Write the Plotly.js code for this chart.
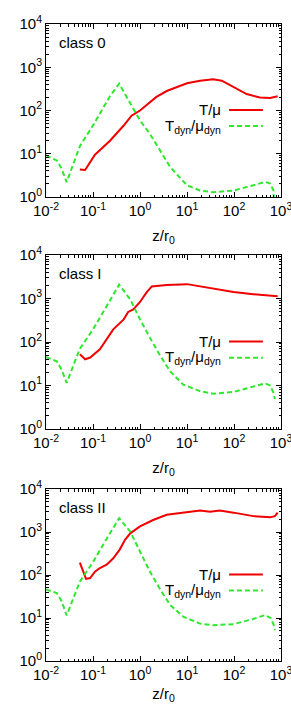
<!DOCTYPE html>
<html>
<head>
<meta charset="utf-8">
<script src="https://cdn.plot.ly/plotly-3.0.1.min.js"></script>
<style>html,body{margin:0;padding:0;background:#fff;}#plot{width:291px;height:704px;}</style>
</head>
<body>
<div id="plot"></div>
<script>
// ---------- data ----------
const panelLabels = ["class 0", "class I", "class II"];
const xTickVals = [0.01, 0.1, 1, 10, 100, 1000];
const xTickText = ["10<sup>-2</sup>", "10<sup>-1</sup>", "10<sup>0</sup>", "10<sup>1</sup>", "10<sup>2</sup>", "10<sup>3</sup>"];
const yTickVals = [1, 10, 100, 1000, 10000];
const yTickText = ["10<sup>0</sup>", "10<sup>1</sup>", "10<sup>2</sup>", "10<sup>3</sup>", "10<sup>4</sup>"];
const seriesNames = ["T/μ", "T<sub>dyn</sub>/μ<sub>dyn</sub>"];

// class 0
const c0_T_x = [0.0525, 0.068, 0.11, 0.23, 0.45, 0.66, 1.0, 2.2, 3.7, 10, 19, 36, 55, 98, 186, 355, 589, 850];
const c0_T_y = [4.3, 4.2, 9.5, 20, 45, 76, 100, 204, 282, 427, 490, 525, 490, 355, 240, 200, 195, 214];
const c0_D_x = [0.01, 0.017, 0.0215, 0.0275, 0.0525, 0.1, 0.23, 0.36, 0.72, 1.0, 1.62, 2.7, 4.4, 10, 19, 36, 98, 257, 457, 589, 692, 724];
const c0_D_y = [9.1, 7.0, 4.5, 2.2, 15, 45, 215, 417, 110, 59, 29, 12, 4.9, 1.86, 1.41, 1.29, 1.41, 1.86, 2.24, 2.04, 1.41, 0.5];

// class I
const c1_T_x = [0.0525, 0.068, 0.087, 0.14, 0.27, 0.45, 0.56, 0.72, 1.0, 1.38, 1.78, 3.7, 10, 19, 36, 98, 257, 850];
const c1_T_y = [52, 40, 44, 68, 195, 331, 490, 562, 832, 1380, 1900, 2040, 2140, 1900, 1660, 1410, 1260, 1120];
const c1_D_x = [0.01, 0.017, 0.0215, 0.0275, 0.0525, 0.1, 0.195, 0.36, 0.62, 1.0, 1.62, 2.7, 4.4, 8.3, 19, 36, 98, 257, 457, 589, 692, 741];
const c1_D_y = [45, 36, 23, 11.5, 70, 195, 665, 2090, 955, 331, 126, 48, 21, 10.5, 7.4, 6.5, 7.1, 9.5, 11.2, 10, 6.8, 4.9];

// class II
const c2_T_x = [0.0525, 0.062, 0.071, 0.087, 0.11, 0.14, 0.195, 0.27, 0.37, 0.48, 0.62, 1.0, 1.9, 3.7, 10, 19, 31, 50, 98, 257, 589, 741, 850];
const c2_T_y = [195, 112, 81, 85, 120, 145, 174, 245, 390, 660, 930, 1350, 1900, 2510, 2950, 3160, 2950, 3160, 2820, 2340, 2190, 2340, 2820];
const c2_D_x = [0.01, 0.017, 0.0215, 0.0275, 0.0525, 0.1, 0.195, 0.36, 0.62, 1.0, 1.62, 2.7, 4.4, 8.3, 19, 36, 98, 257, 457, 603, 692, 741];
const c2_D_y = [46, 38, 24.5, 11.5, 70, 200, 700, 2090, 1020, 355, 120, 46, 20, 10.7, 7.4, 6.8, 7.2, 9.5, 11.7, 10, 7.1, 5.2];

const panels = [
  {tx: c0_T_x, ty: c0_T_y, dx: c0_D_x, dy: c0_D_y},
  {tx: c1_T_x, ty: c1_T_y, dx: c1_D_x, dy: c1_D_y},
  {tx: c2_T_x, ty: c2_T_y, dx: c2_D_x, dy: c2_D_y}
];

// ---------- styling / layout ----------
const W = 291, H = 704;
const RED = '#f00000', GREEN = '#2ee82e';
const FONT = 'Liberation Sans, Arial, Helvetica, sans-serif';
const FS = 15;
const xDom = [46 / W, 281 / W];
const yPix = [[24, 197], [255, 429], [489, 661]];

const traces = [];
const layout = {
  width: W, height: H,
  margin: {l: 0, r: 0, t: 0, b: 0},
  paper_bgcolor: '#fff', plot_bgcolor: '#fff',
  showlegend: false,
  font: {family: FONT, size: FS, color: '#000'},
  annotations: [], shapes: []
};

panels.forEach((p, i) => {
  const s = i === 0 ? '' : String(i + 1);
  const xa = 'x' + s, ya = 'y' + s;
  traces.push({x: p.tx, y: p.ty, xaxis: xa, yaxis: ya, type: 'scatter', mode: 'lines',
    line: {color: RED, width: 2}, name: seriesNames[0]});
  traces.push({x: p.dx, y: p.dy, xaxis: xa, yaxis: ya, type: 'scatter', mode: 'lines',
    line: {color: GREEN, width: 2, dash: '5px,3px'}, name: seriesNames[1]});

  const common = {
    type: 'log', showline: true, linecolor: '#000', linewidth: 1, mirror: 'allticks',
    ticks: 'inside', ticklen: 5, tickcolor: '#000', tickwidth: 1, showgrid: false, zeroline: false,
    ticklabeloverflow: 'allow',
    tickfont: {family: FONT, size: FS, color: '#000'},
    minor: {ticks: 'inside', ticklen: 2.5, tickcolor: '#000', tickwidth: 1, dtick: 'D1', showgrid: false}
  };
  layout['xaxis' + s] = Object.assign({}, common, {
    domain: xDom, anchor: ya, range: [-2.0001, 3.0001],
    tickmode: 'array', tickvals: xTickVals, ticktext: xTickText,
    title: {text: 'z/r<sub>0</sub>', font: {family: FONT, size: FS, color: '#000'}, standoff: 12}
  });
  layout['yaxis' + s] = Object.assign({}, common, {
    domain: [1 - yPix[i][1] / H, 1 - yPix[i][0] / H], anchor: xa, range: [-0.0001, 4.0001],
    tickmode: 'array', tickvals: yTickVals, ticktext: yTickText
  });

  const xd = xa + ' domain', yd = ya + ' domain';
  layout.annotations.push({xref: xd, yref: yd, x: 0.045, y: 0.895, xanchor: 'left', yanchor: 'middle',
    text: panelLabels[i], showarrow: false, font: {family: FONT, size: FS, color: '#000'}});
  layout.annotations.push({xref: xd, yref: yd, x: 0.755, y: 0.503, xanchor: 'right', yanchor: 'middle',
    text: seriesNames[0], showarrow: false, font: {family: FONT, size: FS, color: '#000'}});
  layout.annotations.push({xref: xd, yref: yd, x: 0.755, y: 0.41, xanchor: 'right', yanchor: 'middle',
    text: seriesNames[1], showarrow: false, font: {family: FONT, size: FS, color: '#000'}});
  layout.shapes.push({type: 'line', xref: xd, yref: yd, x0: 0.779, x1: 0.923, y0: 0.503, y1: 0.503,
    line: {color: RED, width: 2}});
  layout.shapes.push({type: 'line', xref: xd, yref: yd, x0: 0.779, x1: 0.923, y0: 0.41, y1: 0.41,
    line: {color: GREEN, width: 2, dash: '5px,3px'}});
});

Plotly.newPlot('plot', traces, layout, {staticPlot: true, displayModeBar: false});
</script>
</body>
</html>
